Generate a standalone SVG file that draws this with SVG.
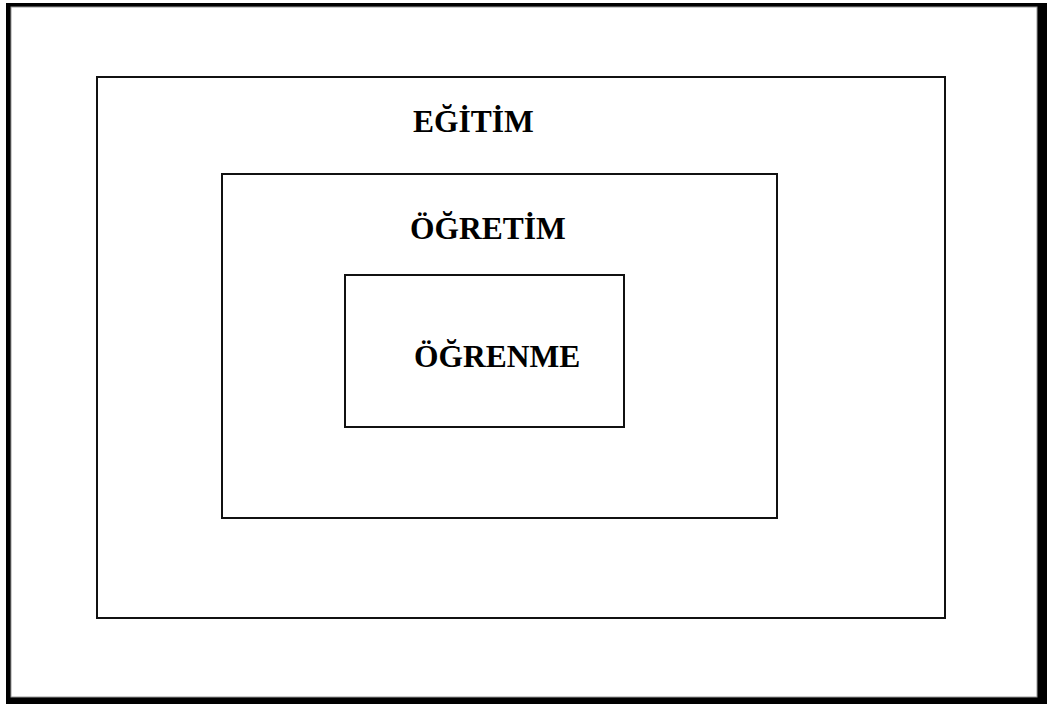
<svg xmlns="http://www.w3.org/2000/svg" width="1050" height="704" viewBox="0 0 1050 704">
  <style>
    .box { fill: none; stroke: #111; stroke-width: 2; }
    .label { font-family: "Liberation Serif", "Times New Roman", serif; font-weight: bold; font-size: 31.5px; fill: #000; }
  </style>
  <!-- page background and heavy frame -->
  <rect x="0" y="0" width="1050" height="704" fill="#fff"/>
  <rect x="6" y="3" width="1041" height="701" fill="#000"/>
  <rect x="11" y="7" width="1026" height="690" fill="#fff" stroke="#999" stroke-width="1"/>

  <g id="egitim">
    <rect class="box" x="97" y="77" width="848" height="541"/>
    <text class="label" x="413" y="132">EĞİTİM</text>
  </g>
  <g id="ogretim">
    <rect class="box" x="222" y="174" width="555" height="344"/>
    <text class="label" x="410" y="239">ÖĞRETİM</text>
  </g>
  <g id="ogrenme">
    <rect class="box" x="345" y="275" width="279" height="152"/>
    <text class="label" x="414" y="367">ÖĞRENME</text>
  </g>
  <g id="connectors"/>
</svg>
